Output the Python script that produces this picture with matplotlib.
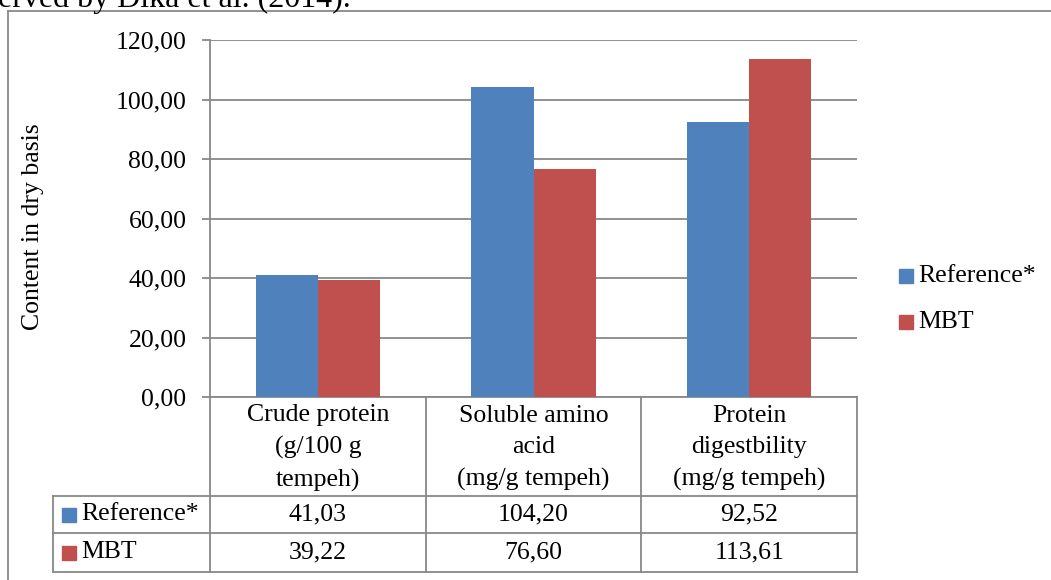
import matplotlib
matplotlib.use("Agg")
import matplotlib.pyplot as plt
from matplotlib.patches import Rectangle
from matplotlib.lines import Line2D

categories = [
    "Crude protein\n(g/100 g\ntempeh)",
    "Soluble amino\nacid\n(mg/g tempeh)",
    "Protein\ndigestbility\n(mg/g tempeh)",
]
series_names = ["Reference*", "MBT"]
reference_vals = [41.03, 104.20, 92.52]
mbt_vals = [39.22, 76.60, 113.61]
yticks = [0, 20, 40, 60, 80, 100, 120]

BLUE = "#4F81BD"
RED = "#C0504D"
GRAY = "#888888"
FONT = "Liberation Serif"
FS = 18.5

W, H = 1051, 580
plt.rcParams["font.family"] = [FONT, "DejaVu Serif"]

fig = plt.figure(figsize=(W / 100, H / 100), dpi=100)


def fx(x):
    return x / W


def fy(y):
    return 1 - y / H


def hline(x0, x1, y, **kw):
    fig.add_artist(Line2D([fx(x0), fx(x1)], [fy(y), fy(y)], color=GRAY, lw=1.3,
                          transform=fig.transFigure, **kw))


def vline(x, y0, y1, **kw):
    fig.add_artist(Line2D([fx(x), fx(x)], [fy(y0), fy(y1)], color=GRAY, lw=1.3,
                          transform=fig.transFigure, **kw))


def swatch(x, y, color, label):
    # small square key + label, y is text centre in pixels
    fig.add_artist(Rectangle((fx(x), fy(y + 7)), fx(14), 14 / H, color=color,
                             transform=fig.transFigure))
    fig.text(fx(x + 19), fy(y), label, fontsize=FS, va="center", ha="left")


# paragraph text above the chart, cut by the image's top edge as in the source
fig.text(fx(-2), fy(7), "erved by Dika et al. (2014).", fontsize=23,
         va="baseline", ha="left")

# outer chart frame
hline(8, W + 5, 11)
vline(8, 11, H + 5)

# plot area
x0, x1, ytop, ybot = 210, 857, 40, 397
ax = fig.add_axes([fx(x0), fy(ybot), fx(x1 - x0), (ybot - ytop) / H])
n = len(categories)
pos = [i + 0.5 for i in range(n)]
bw = 0.2875
ax.bar([p - bw / 2 for p in pos], reference_vals, width=bw, color=BLUE, zorder=3)
ax.bar([p + bw / 2 for p in pos], mbt_vals, width=bw, color=RED, zorder=3)
ax.set_xlim(0, n)
ax.set_ylim(0, 120)
ax.set_yticks(yticks)
ax.set_yticklabels([f"{v:.2f}".replace(".", ",") for v in yticks], fontsize=FS)
ax.set_xticks([])
ax.yaxis.grid(True, color=GRAY, lw=1.3, zorder=0)
ax.tick_params(axis="y", length=6, width=1.3, color=GRAY, pad=11)
for s in ["top", "right"]:
    ax.spines[s].set_visible(False)
for s in ["left", "bottom"]:
    ax.spines[s].set_color(GRAY)
    ax.spines[s].set_linewidth(1.3)

fig.text(fx(33), fy(227), "Content in dry basis", fontsize=FS, rotation=90,
         va="center", ha="center")

# data table below the plot
col_edges = [x0 + (x1 - x0) * i / n for i in range(n + 1)]
row_lines = [496, 533, 572]
for cx in col_edges:
    vline(cx, ybot, row_lines[-1])
vline(53, row_lines[0], row_lines[-1])
for ry in row_lines:
    hline(53, x1, ry)

for i, cat in enumerate(categories):
    cx = (col_edges[i] + col_edges[i + 1]) / 2
    fig.text(fx(cx), fy(448), cat, fontsize=FS, ha="center", va="center",
             linespacing=1.55)

rows = [(series_names[0], BLUE, reference_vals), (series_names[1], RED, mbt_vals)]
for r, (name, color, vals) in enumerate(rows):
    cy = (row_lines[r] + row_lines[r + 1]) / 2
    swatch(62, cy, color, name)
    for i, v in enumerate(vals):
        cx = (col_edges[i] + col_edges[i + 1]) / 2
        fig.text(fx(cx), fy(cy), f"{v:.2f}".replace(".", ","), fontsize=FS,
                 ha="center", va="center")

# legend on the right
swatch(899, 276, BLUE, series_names[0])
swatch(899, 322, RED, series_names[1])

fig.savefig("out.png", dpi=100)
